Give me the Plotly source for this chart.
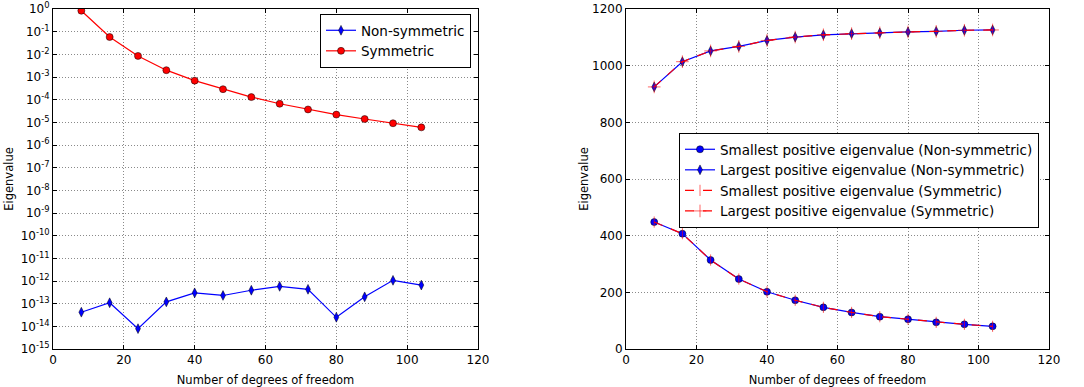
import plotly.graph_objects as go

dof = [8, 16, 24, 32, 40, 48, 56, 64, 72, 80, 88, 96, 104]
nonsym_eig = [4.2e-14, 1.1e-13, 7.9e-15, 1.2e-13, 3.0e-13, 2.3e-13, 3.9e-13,
              5.8e-13, 4.3e-13, 2.5e-14, 2.0e-13, 1.07e-12, 6.6e-13]
sym_eig = [0.84, 0.058, 0.0085, 0.002, 6.9e-4, 2.9e-4, 1.3e-4,
           6.6e-5, 3.7e-5, 2.2e-5, 1.4e-5, 9.1e-6, 6.0e-6]
smallest_nonsym = [448, 407, 314, 247, 202, 172, 147, 129, 114, 105, 94, 87, 80]
largest_nonsym = [925, 1014, 1052, 1068, 1089, 1101, 1109, 1113, 1116, 1119, 1121, 1125, 1126]
smallest_sym = smallest_nonsym
largest_sym = largest_nonsym

log_tickvals = [10.0 ** (-k) for k in range(0, 16)]
log_ticktext = ["10<sup>0</sup>"] + ["10<sup>-%d</sup>" % k for k in range(1, 16)]

FONT = "DejaVu Sans"
W, H = 1084, 387


def dx(px):
    return px / W


def dy(py):
    return 1 - py / H


fig = go.Figure()

fig.add_trace(go.Scatter(x=dof, y=nonsym_eig, mode="lines+markers", name="Non-symmetric",
                         line=dict(color="#0000ff", width=1.2),
                         marker=dict(symbol="diamond-tall", size=7, color="#0000ff",
                                     line=dict(color="black", width=0.5)),
                         xaxis="x", yaxis="y", legend="legend"))
fig.add_trace(go.Scatter(x=dof, y=sym_eig, mode="lines+markers", name="Symmetric",
                         line=dict(color="#ff0000", width=1.2),
                         marker=dict(symbol="circle", size=7, color="#ff0000",
                                     line=dict(color="black", width=0.5)),
                         xaxis="x", yaxis="y", legend="legend"))

fig.add_trace(go.Scatter(x=dof, y=smallest_nonsym, mode="lines+markers",
                         name="Smallest positive eigenvalue (Non-symmetric)",
                         line=dict(color="#0000ff", width=1.2),
                         marker=dict(symbol="circle", size=7, color="#0000ff",
                                     line=dict(color="black", width=0.5)),
                         xaxis="x2", yaxis="y2", legend="legend2"))
fig.add_trace(go.Scatter(x=dof, y=largest_nonsym, mode="lines+markers",
                         name="Largest positive eigenvalue (Non-symmetric)",
                         line=dict(color="#0000ff", width=1.2),
                         marker=dict(symbol="diamond-tall", size=7, color="#0000ff",
                                     line=dict(color="black", width=0.5)),
                         xaxis="x2", yaxis="y2", legend="legend2"))
fig.add_trace(go.Scatter(x=dof, y=smallest_sym, mode="lines+markers",
                         name="Smallest positive eigenvalue (Symmetric)",
                         line=dict(color="#ff0000", width=1.2, dash="dash"),
                         marker=dict(symbol="line-ns", size=8, color="#ff0000",
                                     line=dict(color="rgba(255,0,0,0.6)", width=1)),
                         xaxis="x2", yaxis="y2", legend="legend2"))
fig.add_trace(go.Scatter(x=dof, y=largest_sym, mode="lines+markers",
                         name="Largest positive eigenvalue (Symmetric)",
                         line=dict(color="#ff0000", width=1.2, dash="dash"),
                         marker=dict(symbol="cross-thin", size=9, color="#ff0000",
                                     line=dict(color="rgba(255,0,0,0.6)", width=1)),
                         xaxis="x2", yaxis="y2", legend="legend2"))

axis_common = dict(showline=True, linecolor="black", linewidth=1, mirror="ticks",
                   ticks="inside", ticklen=4, tickcolor="black", automargin=False,
                   ticklabeloverflow="allow",
                   showgrid=True, gridcolor="#8a8a8a", griddash="1px,2px", gridwidth=1,
                   zeroline=False, tickfont=dict(family=FONT, size=12, color="black"))

TITLE = 11.5
ydom = [dy(349), dy(9)]
fig.update_layout(
    width=W, height=H, margin=dict(l=0, r=0, t=0, b=0),
    paper_bgcolor="white", plot_bgcolor="white",
    font=dict(family=FONT, size=12, color="black"),
    showlegend=True,
    xaxis=dict(domain=[dx(53), dx(478)], range=[0, 120], dtick=20,
               title=dict(text="Number of degrees of freedom", font=dict(size=TITLE)),
               anchor="y", **axis_common),
    yaxis=dict(domain=ydom, type="log", range=[-15, 0], tickvals=log_tickvals,
               ticktext=log_ticktext,
               title=dict(text="Eigenvalue", font=dict(size=TITLE), standoff=4),
               anchor="x", **axis_common),
    xaxis2=dict(domain=[dx(626), dx(1049)], range=[0, 120], dtick=20,
                title=dict(text="Number of degrees of freedom", font=dict(size=TITLE)),
                anchor="y2", **axis_common),
    yaxis2=dict(domain=ydom, range=[0, 1200], dtick=200,
                title=dict(text="Eigenvalue", font=dict(size=TITLE), standoff=1),
                anchor="x2", **axis_common),
    legend=dict(x=dx(471), y=dy(14), xanchor="right", yanchor="top",
                bgcolor="white", bordercolor="black", borderwidth=1,
                font=dict(family=FONT, size=13.5), tracegroupgap=0, itemwidth=30),
    legend2=dict(x=dx(679), y=dy(133), xanchor="left", yanchor="top",
                 bgcolor="white", bordercolor="black", borderwidth=1,
                 font=dict(family=FONT, size=13.5), tracegroupgap=0, itemwidth=30),
)

fig.write_html("out.html", config={"displayModeBar": False},
               post_script="document.body.style.margin='0';document.body.style.overflow='hidden';")
